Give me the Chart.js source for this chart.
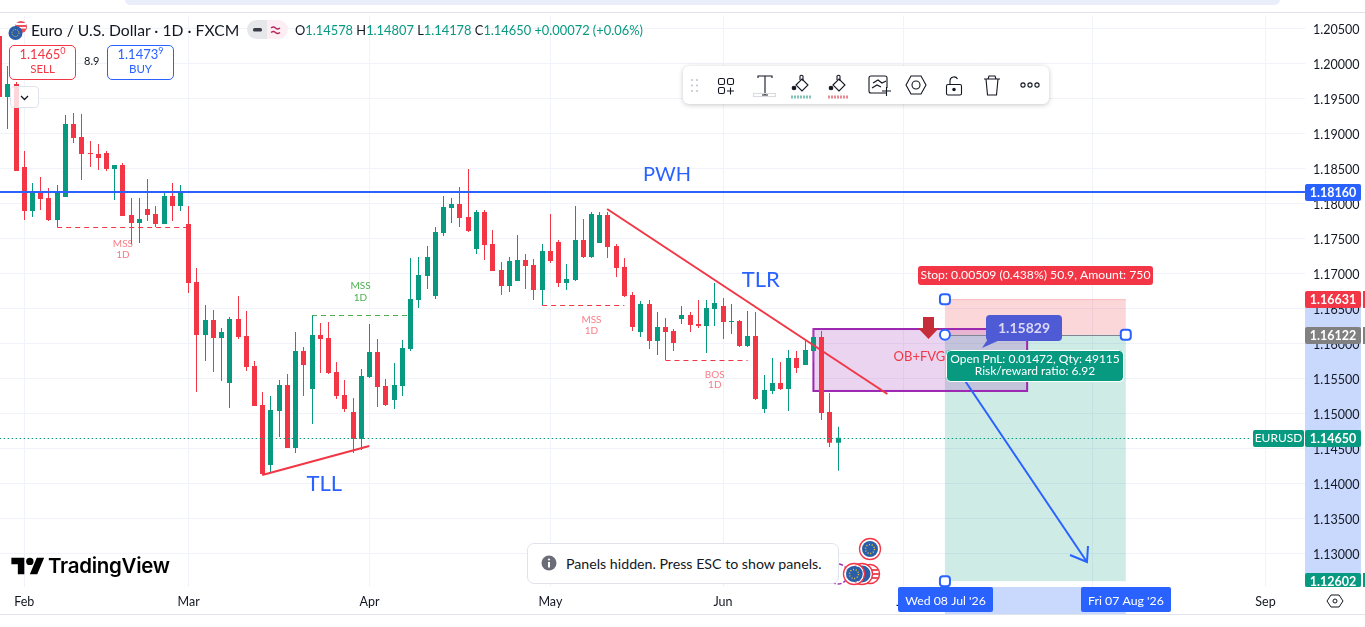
<!DOCTYPE html>
<html>
<head>
<meta charset="utf-8">
<title>EURUSD 1D</title>
<script src="https://cdn.jsdelivr.net/npm/chart.js@4"></script>
<style>
html, body { margin: 0; padding: 0; background: #fff; overflow: hidden; }
body { width: 1365px; height: 627px; position: relative; font-family: "Lato", sans-serif; color: #131722; }
canvas { position: absolute; left: 0; top: 0; }
.abs { position: absolute; white-space: nowrap; }
.pill { left: 125px; top: 0; width: 1155px; height: 5px; background: #e9eefa; border-radius: 0 0 10px 10px; }
.title { left: 31px; top: 20px; font-size: 15.7px; line-height: 20px; }
.ohlc { left: 295px; top: 21px; font-size: 12.85px; line-height: 18px; }
.ohlc b { font-weight: 400; color: #089981; }
.trade { width: 65px; height: 32px; border-radius: 5px; border: 1px solid; background: #fff; text-align: center; font-size: 13px; line-height: 15px; padding-top: 1px; }
.trade sup { font-size: 9px; line-height: 0; }
.trade small { display: block; font-size: 11.5px; line-height: 14px; }
.sell { left: 9px; top: 45px; color: #f23645; border-color: #f23645; }
.buy { left: 107px; top: 45px; color: #2962ff; border-color: #2962ff; }
.spread { left: 84px; top: 54px; font-size: 11px; }
.chev { left: 10px; top: 86px; width: 27px; height: 20px; border: 1px solid #e0e3eb; border-radius: 4px; background: rgba(255,255,255,.8); }
.toolbar { left: 683px; top: 66px; width: 366px; height: 38px; background: #fff; border-radius: 6px; box-shadow: 0 1px 5px rgba(0,0,0,.22); }
.toast { left: 527px; top: 543px; width: 310px; height: 39px; background: #fff; border: 1px solid #e0e3eb; border-radius: 7px; font-size: 14.2px; line-height: 39px; text-indent: 38px; }
.logo { left: 48px; top: 553px; font-family: "Inter", sans-serif; font-weight: 600; font-size: 20.5px; line-height: 26px; letter-spacing: -.3px; color: #000; }
</style>
</head>
<body>
<canvas id="chart" width="1365" height="627"></canvas>

<div class="abs pill"></div>

<svg class="abs" style="left:8px;top:21px" width="20" height="20">
  <circle cx="13" cy="6" r="6" fill="#e8505b"/><rect x="8" y="2" width="10" height="2" fill="#fff"/><rect x="8" y="6" width="10" height="1.5" fill="#fff"/>
  <circle cx="7.5" cy="12" r="7" fill="#2a5ea8"/><circle cx="7.5" cy="12" r="3.5" fill="none" stroke="#f4c430" stroke-width="1" stroke-dasharray="1 1.2"/>
</svg>
<div class="abs title">Euro / U.S. Dollar · 1D · FXCM</div>
<svg class="abs" style="left:247px;top:20px" width="41" height="19">
  <path d="M9.5 0H20V19H9.5A9.5 9.5 0 0 1 9.5 0Z" fill="#e6e7eb"/><path d="M20 0H31.5A9.5 9.5 0 0 1 31.5 19H20Z" fill="#fdeef3"/>
  <rect x="6" y="8" width="9" height="3.5" rx="1.5" fill="#3a3d46"/>
  <path d="M24 8q2.500 -2 4.500 0t4.500 0M24 12.500q2.500 -2 4.500 0t4.500 0" fill="none" stroke="#b5285f" stroke-width="1.300"/>
</svg>
<div class="abs ohlc">O<b>1.14578</b> H<b>1.14807</b> L<b>1.14178</b> C<b>1.14650</b> <b>+0.00072 (+0.06%)</b></div>
<div class="abs trade sell">1.1465<sup>0</sup><small>SELL</small></div>
<div class="abs spread">8.9</div>
<div class="abs trade buy">1.1473<sup>9</sup><small>BUY</small></div>
<div class="abs chev"><svg width="27" height="20"><path d="M10 9l3.500 3.500L17 9" fill="none" stroke="#131722" stroke-width="1.300"/></svg></div>

<div class="abs toolbar">
<svg width="366" height="38" fill="none" stroke="#131722" stroke-width="1.100">
  <g fill="#c4c7cf" stroke="none"><circle cx="9" cy="14" r="1.100"/><circle cx="14" cy="14" r="1.100"/><circle cx="9" cy="19.500" r="1.100"/><circle cx="14" cy="19.500" r="1.100"/><circle cx="9" cy="25" r="1.100"/><circle cx="14" cy="25" r="1.100"/></g>
  <rect x="35.500" y="12.500" width="6" height="6" rx="1.500"/><rect x="44.500" y="12.500" width="6" height="6" rx="1.500"/><rect x="35.500" y="21.500" width="6" height="6" rx="1.500"/><path d="M44 25h7M47.500 21.500v7"/>
  <path d="M75 12V10h14v2M82 10v19M79 29h6"/><rect x="70.500" y="27.500" width="22" height="3" stroke="#d9dbe1"/>
  <g id="pb"><path d="M113 19l6-6 6 6-6 6z"/><path d="M117 14v-4a2 2 0 0 1 3 0v5"/><circle cx="111" cy="22" r="1.800" fill="#131722"/></g>
  <path d="M108 31h21" stroke="#7fc4b6" stroke-width="3" stroke-dasharray="2 1"/>
  <use href="#pb" x="37"/><path d="M145 31h21" stroke="#e88a94" stroke-width="3" stroke-dasharray="2 1"/>
  <path d="M203 27h-15a2 2 0 0 1-2-2V12a2 2 0 0 1 2-2h14a2 2 0 0 1 2 2v10"/><path d="M189 22l5-3 4 2M190 17l5-3 4 3 4-2"/><path d="M199 25h9M203.500 21v9"/>
  <path d="M228 10h10l5 9-5 9h-10l-5-9z"/><circle cx="233" cy="19" r="4"/>
  <rect x="263.500" y="18.500" width="15" height="10.500" rx="1.500"/><path d="M267 18.500v-4a4 4 0 0 1 7.500-1.500"/><circle cx="271" cy="23.500" r="1.200" fill="#131722"/>
  <path d="M301 13h16M305 13l1-3h6l1 3M303 13l1.500 16h9l1.500-16"/>
  <circle cx="340" cy="19" r="2.100"/><circle cx="347" cy="19" r="2.100"/><circle cx="354" cy="19" r="2.100"/>
</svg>
</div>

<svg class="abs" style="left:11px;top:554px" width="34" height="24" viewBox="0 0 36 26">
  <path d="M14 22H7V11H0V4h14v18zM28 22h-8l7.500-18h8L28 22z" fill="#000"/><circle cx="20" cy="8" r="4" fill="#000"/>
</svg>
<div class="abs logo">TradingView</div>

<svg class="abs" style="left:825px;top:535px" width="60" height="52">
  <circle cx="13" cy="39" r="10" fill="#fff" stroke="#9c27b0" stroke-width="1.500" stroke-dasharray="4 2"/>
  <g id="us"><circle cx="45" cy="39" r="9.500" fill="#fff" stroke="#f23645" stroke-width="1.500"/><path d="M37 35h16M36 39h18M37 43h16" stroke="#e8505b" stroke-width="1.800"/></g>
  <circle cx="37" cy="39" r="9.500" fill="#2a5ea8" stroke="#fff" stroke-width="2"/><circle cx="37" cy="39" r="10.500" fill="none" stroke="#f23645" stroke-width="1.300"/>
  <g id="eu"><circle cx="29" cy="39" r="8" fill="#2a5ea8"/><circle cx="29" cy="39" r="9.500" fill="none" stroke="#fff" stroke-width="1.500"/><circle cx="29" cy="39" r="10.500" fill="none" stroke="#f23645" stroke-width="1.300"/><circle cx="29" cy="39" r="4.500" fill="none" stroke="#f4c430" stroke-width="1.400" stroke-dasharray="1.100 1.700"/></g>
  <use href="#eu" x="16" y="-25"/>
</svg>

<div class="abs toast">Panels hidden. Press ESC to show panels.</div>
<svg class="abs" style="left:541px;top:555px" width="16" height="16">
  <circle cx="8" cy="8" r="7.500" fill="#6a6d78"/><circle cx="8" cy="4.500" r="1.100" fill="#fff"/><rect x="7" y="7" width="2" height="5.500" fill="#fff"/>
</svg>

<script>
// bars run from index -3, Feb first bar is index 0
const firstBar = -3;
const opens = [1.2039,1.19519,1.19704,1.18519,1.1789,1.18161,1.18076,1.17761,1.1809,1.19133,
  1.18947,1.18719,1.18704,1.18719,1.1849,1.18547,1.17833,1.17719,1.17919,1.17847,
  1.17704,1.18104,1.17961,1.17704,1.16876,1.16119,1.16333,1.16076,1.15433,1.16347,
  1.16104,1.15676,1.15119,1.14261,1.15033,1.15404,1.14504,1.1589,1.15347,1.16119,
  1.16076,1.1559,1.15261,1.15019,1.14633,1.15519,1.15876,1.1539,1.1519,1.1539,
  1.15919,1.16619,1.16961,1.16676,1.17576,1.17933,1.1799,1.17804,1.17347,1.17876,
  1.17419,1.17047,1.16819,1.1689,1.1719,1.17119,1.16761,1.17319,1.17447,1.16861,
  1.16904,1.17476,1.17233,1.17433,1.17833,1.1739,1.1709,1.1669,1.16161,1.16561,
  1.16033,1.16233,1.16176,1.16347,1.16404,1.16276,1.16247,1.1649,1.16533,1.16304,
  1.16319,1.15961,1.16104,1.15061,1.15319,1.15433,1.15347,1.1579,1.1569,1.1589,
  1.1609,1.15019,1.14578];
const closes = [1.19519,1.19704,1.18461,1.1789,1.18161,1.18061,1.17761,1.18147,1.19133,1.18933,
  1.18704,1.18704,1.18647,1.1849,1.18547,1.17819,1.17719,1.17776,1.17833,1.17704,
  1.18104,1.17961,1.18161,1.16861,1.16119,1.16333,1.16076,1.16161,1.16347,1.1609,
  1.15661,1.15104,1.14133,1.15047,1.15404,1.14504,1.1589,1.1569,1.16119,1.16061,
  1.15576,1.15247,1.15061,1.14633,1.15533,1.15876,1.15376,1.15119,1.15404,1.15933,
  1.16633,1.16976,1.17233,1.1759,1.17947,1.1799,1.1779,1.17604,1.17876,1.17404,
  1.17033,1.16819,1.17176,1.1719,1.17104,1.16761,1.17319,1.17176,1.16861,1.16919,
  1.17476,1.17233,1.17847,1.17833,1.17376,1.17076,1.16676,1.16233,1.16561,1.16033,
  1.16233,1.16161,1.16004,1.16404,1.16261,1.16247,1.16504,1.16576,1.16304,1.16319,
  1.15961,1.16104,1.15204,1.15333,1.15433,1.15347,1.1579,1.15647,1.15904,1.1609,
  1.15004,1.14578,1.1465];
const highs = [1.2039,1.19961,1.19733,1.18747,1.1829,1.18376,1.18219,1.18261,1.19261,1.1929,
  1.19276,1.1889,1.18847,1.18747,1.18547,1.18576,1.18076,1.18076,1.18347,1.17961,
  1.18147,1.1829,1.18261,1.17961,1.17076,1.16547,1.16476,1.16219,1.16376,1.16676,
  1.16461,1.15747,1.15304,1.15247,1.15476,1.15561,1.16161,1.15947,1.16404,1.1629,
  1.16304,1.15733,1.15476,1.15219,1.15633,1.16276,1.16061,1.1549,1.15719,1.16047,
  1.17219,1.17233,1.1739,1.17661,1.18104,1.18076,1.18233,1.1849,1.17904,1.17904,
  1.17619,1.17161,1.17233,1.17547,1.17276,1.17204,1.17419,1.17847,1.17476,1.17133,
  1.17961,1.17776,1.17876,1.17876,1.17876,1.17419,1.17219,1.16733,1.16604,1.16619,
  1.16447,1.16361,1.16204,1.16533,1.16447,1.16619,1.16619,1.16861,1.16647,1.16561,
  1.16333,1.16461,1.16447,1.15547,1.1579,1.15733,1.15904,1.1589,1.16033,1.16219,
  1.16176,1.1529,1.14807];
const lows = [1.19519,1.19061,1.18461,1.17761,1.17804,1.17904,1.17747,1.17661,1.1809,1.18861,
  1.18333,1.18519,1.18476,1.18461,1.18047,1.17819,1.17419,1.17433,1.17747,1.17661,
  1.17704,1.17747,1.1789,1.16719,1.15304,1.15747,1.1559,1.15461,1.15076,1.16061,
  1.15604,1.15104,1.14119,1.14147,1.14661,1.14504,1.14433,1.15247,1.14847,1.15576,
  1.15561,1.15204,1.15019,1.14433,1.14476,1.15504,1.1509,1.15104,1.15061,1.15247,
  1.1589,1.16504,1.16776,1.16633,1.17533,1.17719,1.17661,1.1759,1.17276,1.1719,
  1.17033,1.1669,1.16733,1.1689,1.16776,1.16619,1.16547,1.17147,1.16804,1.16761,
  1.1689,1.17219,1.17219,1.17433,1.17219,1.16947,1.16661,1.16176,1.1609,1.15919,
  1.15833,1.15761,1.1589,1.16276,1.16161,1.16219,1.15861,1.16247,1.16061,1.16133,
  1.15947,1.15947,1.1519,1.15004,1.15276,1.15333,1.15033,1.15576,1.1569,1.15733,
  1.14904,1.14519,1.14178];

const priceTicks = [1.13,1.135,1.14,1.145,1.15,1.155,1.16,1.165,1.17,1.175,1.18,1.185,1.19,1.195,1.2,1.205];
const monthBars = [0,20,42,64,85,107,130,151];
const monthNames = ['Feb','Mar','Apr','May','Jun','Jul','Aug','Sep'];

// drawings, [bar, price]
const pwhLine = [[-3,1.1816],[155.8,1.1816]];
const tlrLine = [[70.9,1.17919],[105,1.15276]];
const tllLine = [[28.95,1.14119],[41.97,1.14533]];
const arrowLine = [[112.74,1.15761],[129.28,1.12876]];
const mssRed1 = [[4,1.17661],[20,1.17661]];
const mssGreen = [[35,1.16404],[46.7,1.16404]];
const mssRed2 = [[63,1.16547],[73,1.16547]];
const bosRed = [[78,1.15761],[88,1.15761]];
const lastPrice = 1.1465;
const entryPrice = 1.16122;
const stopPrice = 1.16631;
const targetPrice = 1.12602;
const posFrom = 112;
const posTo = 134;
const obBox = [96,122,1.16204,1.15319];
// text, bar, price, px, colour
const noteTexts = [
  ['PWH',78.2,1.1841,20,'#2962ff'],
  ['TLR',89.6,1.16905,22,'#2962ff'],
  ['TLL',36.5,1.13995,22,'#2962ff'],
  ['OB+FVG',108.9,1.15804,13,'#f23645'],
  ['MSS',12,1.17425,10,'rgba(242,54,69,.65)'],
  ['1D',12,1.17268,10,'rgba(242,54,69,.65)'],
  ['MSS',40.9,1.16815,10,'#4caf50'],
  ['1D',40.9,1.16645,10,'#4caf50'],
  ['MSS',69,1.16333,10,'rgba(242,54,69,.65)'],
  ['1D',69,1.16176,10,'rgba(242,54,69,.65)'],
  ['BOS',84,1.15547,10,'rgba(242,54,69,.65)'],
  ['1D',84,1.15404,10,'rgba(242,54,69,.65)']
];

const green = '#089981';
const red = '#f23645';
const blue = '#2962ff';
const gridCol = '#f0f3fa';
const uiFont = '"Lato", sans-serif';

const barX = opens.map((v, i) => firstBar + i);
const candleCol = opens.map((v, i) => closes[i] >= v ? green : red);

function pts(arr) {
  return arr.map(p => ({ x: p[0], y: p[1] }));
}
function lineSet(arr, col, w, dash, flat) {
  return { type: 'line', data: pts(arr), borderColor: col, borderWidth: w, borderDash: dash || [],
    pointRadius: 0, fill: false, tension: 0, order: 0, flat: !!flat };
}
function roundBox(c, x, y, w, h, r, fill) {
  c.fillStyle = fill;
  c.beginPath();
  c.roundRect(x, y, w, h, r);
  c.fill();
}
function centerText(c, txt, x, y, font, col) {
  c.font = font;
  c.fillStyle = col;
  c.textAlign = 'center';
  c.textBaseline = 'middle';
  c.fillText(txt, x, y);
}
function handle(c, x, y) {
  c.fillStyle = '#fff';
  c.strokeStyle = blue;
  c.lineWidth = 2;
  c.beginPath();
  c.roundRect(x - 5, y - 5, 10, 10, 3);
  c.fill();
  c.stroke();
}

const drawings = {
  id: 'drawings',
  afterDatasetsUpdate(chart) {
    // snap candles and flat lines onto whole pixels so they stay crisp
    [0, 1].forEach(n => {
      chart.getDatasetMeta(n).data.forEach(b => { b.x = Math.floor(b.x) + 0.5; });
    });
    chart.data.datasets.forEach((ds, n) => {
      if (!ds.flat) return;
      chart.getDatasetMeta(n).data.forEach(p => { p.y = Math.round(p.y) + (ds.borderWidth % 2 ? 0.5 : 0); });
    });
  },
  beforeDraw(chart) {
    const c = chart.ctx, xs = chart.scales.x, ys = chart.scales.y;
    c.save();
    c.fillStyle = '#fff';
    c.fillRect(0, 0, 1365, 627);
    // selection bands on both axes
    c.fillStyle = '#c9d8fd';
    c.fillRect(1305, ys.getPixelForValue(stopPrice), 56, chart.chartArea.bottom - ys.getPixelForValue(stopPrice));
    c.fillRect(xs.getPixelForValue(posFrom), chart.chartArea.bottom, xs.getPixelForValue(posTo) - xs.getPixelForValue(posFrom), 27);
    // frame lines
    c.fillStyle = '#e0e3eb';
    c.fillRect(0, 12, 1365, 1);
    c.fillRect(0, 614, 1365, 1);
    c.restore();
  },
  beforeDatasetsDraw(chart) {
    const c = chart.ctx, xs = chart.scales.x, ys = chart.scales.y;
    const x1 = xs.getPixelForValue(posFrom), x2 = xs.getPixelForValue(posTo);
    const yS = ys.getPixelForValue(stopPrice), yE = ys.getPixelForValue(entryPrice), yT = ys.getPixelForValue(targetPrice);
    c.save();
    c.fillStyle = 'rgba(242,54,69,.2)';
    c.fillRect(x1, yS, x2 - x1, yE - yS);
    c.fillStyle = 'rgba(8,153,129,.2)';
    c.fillRect(x1, yE, x2 - x1, yT - yE);
    c.fillStyle = 'rgba(242,54,69,.2)';
    c.fillRect(x1, yS, x2 - x1, 1);
    // OB box
    const bx = xs.getPixelForValue(obBox[0]), bx2 = xs.getPixelForValue(obBox[1]);
    const by = ys.getPixelForValue(obBox[2]), by2 = ys.getPixelForValue(obBox[3]);
    c.fillStyle = 'rgba(156,39,176,.2)';
    c.fillRect(bx, by, bx2 - bx, by2 - by);
    c.strokeStyle = '#9c27b0';
    c.lineWidth = 2;
    c.strokeRect(bx, by, bx2 - bx, by2 - by);
    // entry line
    c.fillStyle = '#808591';
    c.fillRect(x1, Math.round(yE), x2 - x1, 1);
    c.restore();
  },
  afterDraw(chart) {
    const c = chart.ctx, xs = chart.scales.x, ys = chart.scales.y;
    const x1 = xs.getPixelForValue(posFrom), x2 = xs.getPixelForValue(posTo);
    const yS = ys.getPixelForValue(stopPrice), yE = ys.getPixelForValue(entryPrice), yT = ys.getPixelForValue(targetPrice);
    c.save();

    noteTexts.forEach(t => {
      centerText(c, t[0], xs.getPixelForValue(t[1]), ys.getPixelForValue(t[2]), t[3] + 'px ' + uiFont, t[4]);
    });

    // red arrow above the entry
    c.fillStyle = '#c62d3a';
    c.beginPath();
    c.moveTo(923, 317); c.lineTo(934, 317); c.lineTo(934, 328); c.lineTo(939, 328);
    c.lineTo(928.5, 339); c.lineTo(918, 328); c.lineTo(923, 328);
    c.closePath();
    c.fill();

    // arrow head
    const tx = xs.getPixelForValue(arrowLine[1][0]), ty = ys.getPixelForValue(arrowLine[1][1]);
    c.strokeStyle = blue;
    c.lineWidth = 2;
    c.beginPath();
    c.moveTo(tx + 1, ty - 16); c.lineTo(tx, ty); c.lineTo(tx - 17, ty - 7);
    c.stroke();

    // stop label
    roundBox(c, 918, 266, 235, 19, 3, red);
    centerText(c, 'Stop: 0.00509 (0.438%) 50.9, Amount: 750', 1035.5, 275.5, '12.2px ' + uiFont, '#fff');

    // floating price chip
    c.fillStyle = '#4f5bd5';
    c.beginPath();
    c.moveTo(990, 336); c.lineTo(982, 348); c.lineTo(1000, 340);
    c.closePath();
    c.fill();
    roundBox(c, 986, 315, 76, 26, 4, '#4f5bd5');
    centerText(c, '1.15829', 1024, 328, 'bold 14px ' + uiFont, '#dcd8f5');

    // handles
    handle(c, x1, yS);
    handle(c, x2, yE);
    handle(c, x1, yT);
    c.fillStyle = '#fff';
    c.strokeStyle = blue;
    c.lineWidth = 2;
    c.beginPath();
    c.arc(x1, yE, 5, 0, Math.PI * 2);
    c.fill();
    c.stroke();

    // open pnl label
    c.strokeStyle = '#fff';
    c.lineWidth = 1;
    roundBox(c, 946, 350, 177, 31, 4, green);
    c.beginPath();
    c.roundRect(946.5, 350.5, 177, 31, 4);
    c.stroke();
    centerText(c, 'Open PnL: 0.01472, Qty: 49115', 1035, 359.5, '12px ' + uiFont, '#fff');
    centerText(c, 'Risk/reward ratio: 6.92', 1035, 371.5, '12px ' + uiFont, '#fff');

    // price axis labels
    [[1.1816, blue, '1.18160'], [stopPrice, red, '1.16631'], [entryPrice, '#808080', '1.16122'],
     [lastPrice, green, '1.14650'], [targetPrice, green, '1.12602']].forEach(l => {
      const y = Math.round(ys.getPixelForValue(l[0]));
      let h = 17;
      let top = y - 8;
      if (l[0] === targetPrice) h = 587 - top;
      roundBox(c, 1305, top, 56, h, 2, l[1]);
      if (l[0] !== 1.1816 && l[0] !== lastPrice) c.fillRect(1363, top, 2, h);
      centerText(c, l[2], 1333, y + 0.5, 'bold 12.5px ' + uiFont, '#fff');
    });
    roundBox(c, 1253, Math.round(ys.getPixelForValue(lastPrice)) - 8, 51, 17, 2, green);
    centerText(c, 'EURUSD', 1278.5, Math.round(ys.getPixelForValue(lastPrice)) + 0.5, '12px ' + uiFont, '#fff');

    // time axis date labels
    roundBox(c, 898, 587, 95, 25, 2, blue);
    roundBox(c, 1081, 587, 90, 25, 2, blue);
    centerText(c, "Wed 08 Jul '26", 945.5, 601, '12.3px ' + uiFont, '#fff');
    centerText(c, "Fri 07 Aug '26", 1126, 601, '12.3px ' + uiFont, '#fff');

    // settings icon under the price axis
    c.strokeStyle = '#131722';
    c.lineWidth = 1;
    c.beginPath();
    c.moveTo(1331, 595); c.lineTo(1339, 595); c.lineTo(1343, 601); c.lineTo(1339, 607);
    c.lineTo(1331, 607); c.lineTo(1327, 601);
    c.closePath();
    c.stroke();
    c.beginPath();
    c.arc(1335, 601, 2, 0, Math.PI * 2);
    c.stroke();
    c.restore();
  }
};

const chart = new Chart(document.getElementById('chart').getContext('2d'), {
  type: 'bar',
  plugins: [drawings],
  data: {
    datasets: [
      { type: 'bar', data: barX.map((x, i) => ({ x: x, y: [opens[i], closes[i]] })),
        backgroundColor: candleCol, barThickness: 5, minBarLength: 1, grouped: false, inflateAmount: 0, order: 1 },
      { type: 'bar', data: barX.map((x, i) => ({ x: x, y: [lows[i], highs[i]] })),
        backgroundColor: candleCol, barThickness: 1, grouped: false, inflateAmount: 0, order: 2 },
      lineSet(pwhLine, blue, 2, [], true),
      lineSet(tlrLine, red, 2),
      lineSet(tllLine, red, 2),
      lineSet(arrowLine, blue, 2),
      lineSet(mssRed1, red, 1, [5, 4], true),
      lineSet(mssGreen, '#4caf50', 1, [5, 4], true),
      lineSet(mssRed2, red, 1, [5, 4], true),
      lineSet(bosRed, red, 1, [5, 4], true),
      lineSet([[-3, lastPrice], [149.2, lastPrice]], green, 1, [1.5, 2.5], true)
    ]
  },
  options: {
    responsive: false,
    animation: false,
    events: [],
    layout: { autoPadding: false, padding: { top: 13, left: 0, right: 0, bottom: 0 } },
    plugins: { legend: { display: false }, tooltip: { enabled: false } },
    scales: {
      x: {
        type: 'linear',
        offset: false,
        min: (0 - 24.3) / 8.22,
        max: (1305 - 24.3) / 8.22,
        border: { display: false },
        grid: { color: gridCol, drawTicks: false, offset: false },
        afterBuildTicks(s) { s.ticks = monthBars.map(v => ({ value: v })); },
        afterFit(s) { s.height = 40; },
        ticks: {
          autoSkip: false, maxRotation: 0, padding: 7, color: '#131722',
          font: { family: 'Lato', size: 12.5 },
          callback(v) { return monthNames[monthBars.indexOf(v)]; }
        }
      },
      y: {
        position: 'right',
        // plot area ends up at 15.5..587 in this layout, 7000 px per 1.0 of price
        min: 1.18 + (203.3 - 587) / 7000,
        max: 1.18 + (203.3 - 15.5) / 7000,
        border: { display: false },
        grid: { color: gridCol, drawTicks: false },
        afterBuildTicks(s) { s.ticks = priceTicks.map(v => ({ value: v })); },
        afterFit(s) { s.width = 60; },
        ticks: {
          padding: 8, labelOffset: 1.5, color: '#131722',
          font: { family: 'Lato', size: 12.5 },
          callback(v) { return v.toFixed(5); }
        }
      }
    }
  }
});
</script>
</body>
</html>
